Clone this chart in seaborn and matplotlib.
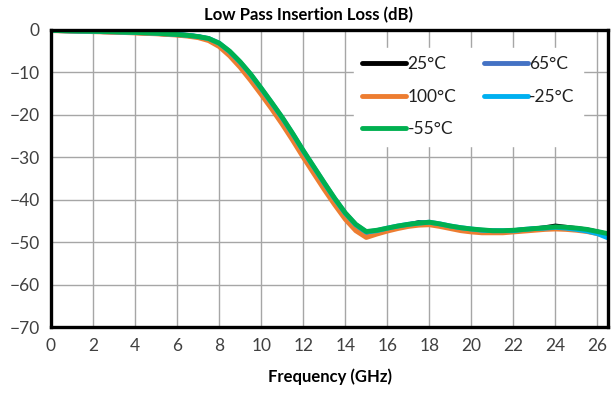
import numpy as np
import pandas as pd
import matplotlib
matplotlib.use("Agg")
import matplotlib.pyplot as plt
import seaborn as sns

freq = [0.0, 0.5, 1.0, 1.5, 2.0, 2.5, 3.0, 3.5, 4.0, 4.5, 5.0, 5.5, 6.0, 6.5, 7.0, 7.5,
        8.0, 8.5, 9.0, 9.5, 10.0, 10.5, 11.0, 11.5, 12.0, 12.5, 13.0, 13.5, 14.0, 14.5,
        15.0, 15.5, 16.0, 16.5, 17.0, 17.5, 18.0, 18.5, 19.0, 19.5, 20.0, 20.5, 21.0,
        21.5, 22.0, 22.5, 23.0, 23.5, 24.0, 24.5, 25.0, 25.5, 26.0, 26.5]

loss_25 = [-0.1, -0.15, -0.2, -0.25, -0.3, -0.4, -0.45, -0.5, -0.6, -0.7, -0.8, -0.95,
           -1.1, -1.3, -1.6, -2.1, -3.3, -5.3, -7.8, -10.8, -14.1, -17.5, -21.0, -24.8,
           -28.8, -32.6, -36.4, -40.1, -43.5, -46.2, -47.8, -47.4, -46.9, -46.4, -45.9,
           -45.4, -45.5, -45.9, -46.4, -46.8, -47.1, -47.3, -47.4, -47.5, -47.3, -47.1,
           -46.9, -46.6, -46.2, -46.5, -46.8, -47.1, -47.6, -48.2]
loss_65 = [-0.1, -0.15, -0.2, -0.25, -0.3, -0.4, -0.45, -0.5, -0.6, -0.7, -0.8, -0.95,
           -1.1, -1.3, -1.6, -2.2, -3.4, -5.5, -8.0, -11.0, -14.3, -17.7, -21.2, -25.0,
           -29.0, -32.8, -36.6, -40.3, -43.8, -46.5, -47.9, -47.5, -47.0, -46.5, -46.1,
           -45.7, -45.6, -46.0, -46.5, -46.9, -47.2, -47.4, -47.5, -47.5, -47.4, -47.2,
           -47.0, -46.8, -46.6, -46.7, -46.9, -47.2, -47.7, -48.3]
loss_100 = [-0.15, -0.2, -0.25, -0.3, -0.4, -0.45, -0.5, -0.6, -0.7, -0.8, -0.9, -1.05,
            -1.2, -1.45, -1.8, -2.5, -3.9, -6.1, -8.8, -11.9, -15.2, -18.6, -22.2, -26.0,
            -30.0, -33.8, -37.6, -41.2, -44.6, -47.3, -48.9, -48.1, -47.4, -46.8, -46.3,
            -46.0, -45.9, -46.3, -46.8, -47.3, -47.6, -47.8, -47.8, -47.8, -47.6, -47.4,
            -47.2, -47.0, -46.9, -47.0, -47.2, -47.5, -48.0, -48.6]
loss_m25 = [-0.1, -0.15, -0.2, -0.25, -0.3, -0.35, -0.4, -0.5, -0.55, -0.65, -0.75, -0.9,
            -1.05, -1.25, -1.55, -2.0, -3.1, -5.1, -7.6, -10.5, -13.8, -17.2, -20.7, -24.5,
            -28.5, -32.3, -36.1, -39.8, -43.2, -45.9, -47.6, -47.3, -46.7, -46.2, -45.8,
            -45.5, -45.3, -45.7, -46.2, -46.6, -46.9, -47.2, -47.3, -47.3, -47.3, -47.0,
            -46.8, -46.7, -46.5, -46.7, -47.0, -47.4, -48.0, -49.0]
loss_m55 = [-0.1, -0.15, -0.2, -0.25, -0.3, -0.35, -0.4, -0.5, -0.55, -0.65, -0.75, -0.9,
            -1.05, -1.25, -1.55, -2.0, -3.1, -5.0, -7.5, -10.4, -13.7, -17.1, -20.6, -24.4,
            -28.4, -32.2, -36.0, -39.7, -43.1, -45.8, -47.5, -47.2, -46.7, -46.2, -45.8,
            -45.5, -45.3, -45.7, -46.2, -46.6, -46.9, -47.1, -47.3, -47.3, -47.2, -47.0,
            -46.8, -46.6, -46.4, -46.5, -46.7, -47.0, -47.5, -48.0]

series_names = ["25°C", "65°C", "100°C", "-25°C", "-55°C"]
series_colors = ["#000000", "#4472C4", "#ED7D31", "#00B0F0", "#00B050"]
series_values = [loss_25, loss_65, loss_100, loss_m25, loss_m55]

x_ticks = list(range(0, 27, 2))
y_ticks = list(range(-70, 1, 10))

rows = []
for name, vals in zip(series_names, series_values):
    for f, v in zip(freq, vals):
        rows.append({"Frequency": f, "Loss": v, "Temp": name})
df = pd.DataFrame(rows)

sns.set_theme(style="white")
plt.rcParams["font.family"] = ["Lato", "DejaVu Sans"]

fig = plt.figure(figsize=(6.11, 4.01), dpi=100)
ax = fig.add_axes([51 / 611, 1 - 327 / 401, (608 - 51) / 611, (327 - 30) / 401])

sns.lineplot(data=df, x="Frequency", y="Loss", hue="Temp", hue_order=series_names,
             palette=dict(zip(series_names, series_colors)), linewidth=3.5, ax=ax,
             legend=True, zorder=3)

ax.set_xlim(0, 26.5)
ax.set_ylim(-70, 0)
ax.set_xticks(x_ticks)
ax.set_yticks(y_ticks)
ax.tick_params(axis="both", labelsize=12.5, colors="#404040", length=0, pad=8)
ax.grid(True, color="#A6A6A6", linewidth=1.0)
ax.set_axisbelow(True)
for s in ax.spines.values():
    s.set_visible(True)
    s.set_color("black")
    s.set_linewidth(2.4)
    s.set_zorder(5)

ax.set_xlabel("Frequency (GHz)", fontsize=12, fontweight="bold", color="black", labelpad=10)
ax.set_ylabel("")
fig.text(0.505, 1 - 15 / 401, "Low Pass Insertion Loss (dB)", ha="center", va="center",
         fontsize=12, fontweight="bold", color="black")

handles, labels = ax.get_legend_handles_labels()
order = [0, 2, 4, 1, 3]
leg = ax.legend([handles[i] for i in order], [labels[i] for i in order], ncol=2,
                loc="upper left",
                bbox_to_anchor=((345 - 51) / 557, 1 - (39 - 30) / 297),
                frameon=True, fancybox=False, framealpha=1.0, edgecolor="white",
                facecolor="white", fontsize=12.5, handlelength=2.5, handletextpad=0.1,
                columnspacing=1.6, labelspacing=0.95, borderpad=0.5)
for line in leg.get_lines():
    line.set_linewidth(3.5)
for t in leg.get_texts():
    t.set_color("#202020")
leg.set_zorder(6)

fig.savefig("out.png", dpi=100)
